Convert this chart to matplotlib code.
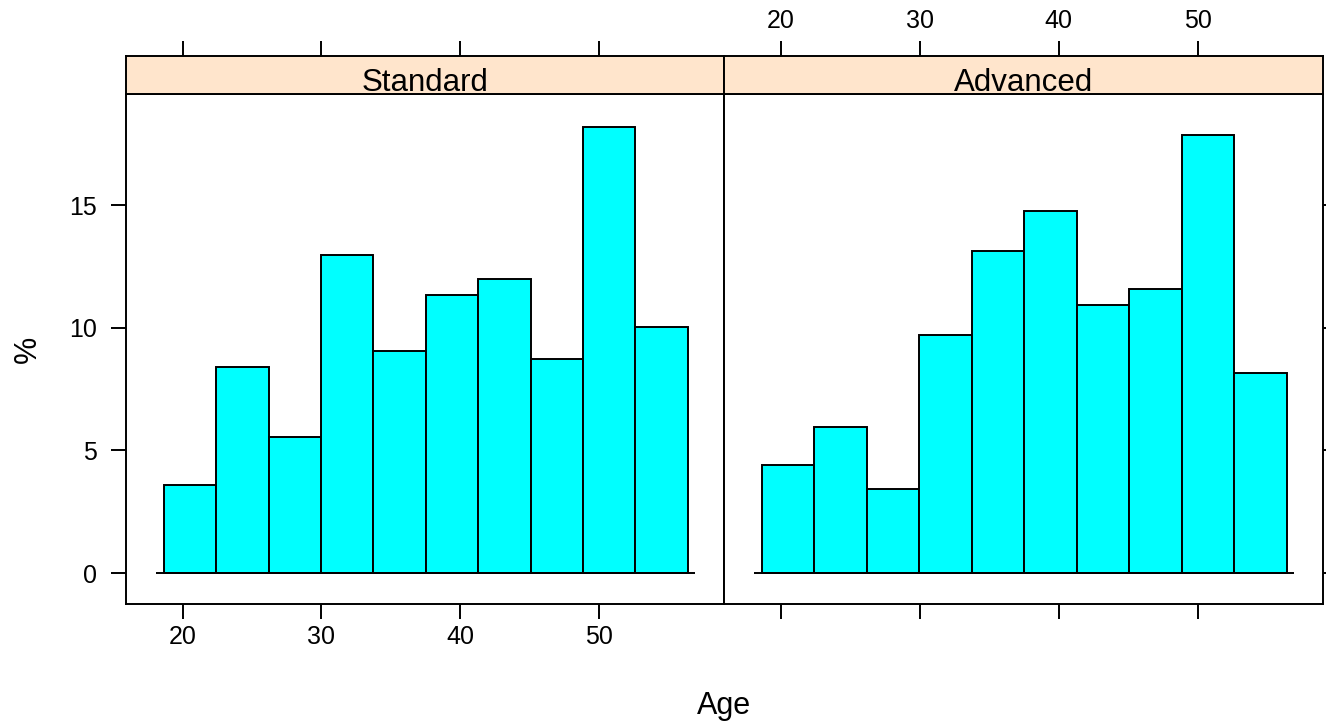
import numpy as np
import matplotlib
matplotlib.use("Agg")
import matplotlib.pyplot as plt

plt.rcParams["font.family"] = ["Liberation Sans", "DejaVu Sans"]

# ── Data ──────────────────────────────────────────────────────────── #
panels = ["Standard", "Advanced"]
bin_edges = [18.65, 22.43, 26.20, 29.98, 33.75, 37.53,
             41.30, 45.08, 48.85, 52.63, 56.40]
standard_pct = [3.59, 8.40, 5.54, 12.96, 9.06, 11.35, 11.99, 8.74, 18.19, 10.03]
advanced_pct = [4.40, 5.96, 3.42, 9.70, 13.14, 14.77, 10.93, 11.58, 17.87, 8.15]
x_ticks = [20, 30, 40, 50]
y_ticks = [0, 5, 10, 15]

# ── Layout (pixels) ───────────────────────────────────────────────── #
W, H = 1326, 728
XLIM = (15.92, 59.02)
YLIM = (-1.26, 19.53)
LW = 1.4
TICK_FS = 18
BAR_COLOR = "#00FFFF"
STRIP_COLOR = "#FFE5CC"


def px_axes(fig, x0, y0, x1, y1):
    return fig.add_axes([x0 / W, 1 - y1 / H, (x1 - x0) / W, (y1 - y0) / H])


fig = plt.figure(figsize=(W / 100, H / 100), dpi=100)

columns = [(126, 724), (724, 1323)]
values = [standard_pct, advanced_pct]

for i, (name, (x0, x1), pct) in enumerate(zip(panels, columns, values)):
    # main panel
    ax = px_axes(fig, x0, 94, x1, 604)
    edges = np.array(bin_edges)
    ax.bar(edges[:-1], pct, width=np.diff(edges), align="edge",
           color=BAR_COLOR, edgecolor="black", linewidth=LW, zorder=2)
    ax.hlines(0, edges[0] - 0.55, edges[-1] + 0.55, color="black",
              linewidth=LW, zorder=3)
    ax.set_xlim(*XLIM)
    ax.set_ylim(*YLIM)
    ax.set_xticks(x_ticks)
    ax.set_yticks(y_ticks)
    for sp in ax.spines.values():
        sp.set_linewidth(LW)
    ax.tick_params(length=10.8, width=LW, labelsize=TICK_FS, color="black")
    ax.tick_params(axis="x", pad=4)
    ax.tick_params(axis="y", pad=10)
    if i == 0:
        ax.tick_params(axis="x", bottom=True, labelbottom=True)
        ax.tick_params(axis="y", left=True, labelleft=True, right=False)
    else:
        ax.tick_params(axis="x", bottom=True, labelbottom=False)
        ax.tick_params(axis="y", left=False, labelleft=False,
                       right=True, labelright=False)

    # strip
    sax = px_axes(fig, x0, 56, x1, 94)
    sax.set_facecolor(STRIP_COLOR)
    sax.set_xlim(*XLIM)
    sax.set_ylim(0, 1)
    sax.set_yticks([])
    sax.set_xticks(x_ticks)
    for sp in sax.spines.values():
        sp.set_linewidth(LW)
    sax.tick_params(axis="x", bottom=False, labelbottom=False, top=True,
                    labeltop=(i == 1), length=10.8, width=LW,
                    labelsize=TICK_FS, pad=6)
    sax.text(0.5, 0.09, name, transform=sax.transAxes, ha="center",
             va="baseline", fontsize=22.5)

fig.text(724.5 / W, 1 - 714 / H, "Age", ha="center", va="baseline",
         fontsize=22)
fig.text(28 / W, 1 - 349 / H, "%", ha="center", va="center", fontsize=22,
         rotation=90)

fig.savefig("out.png", dpi=100)
